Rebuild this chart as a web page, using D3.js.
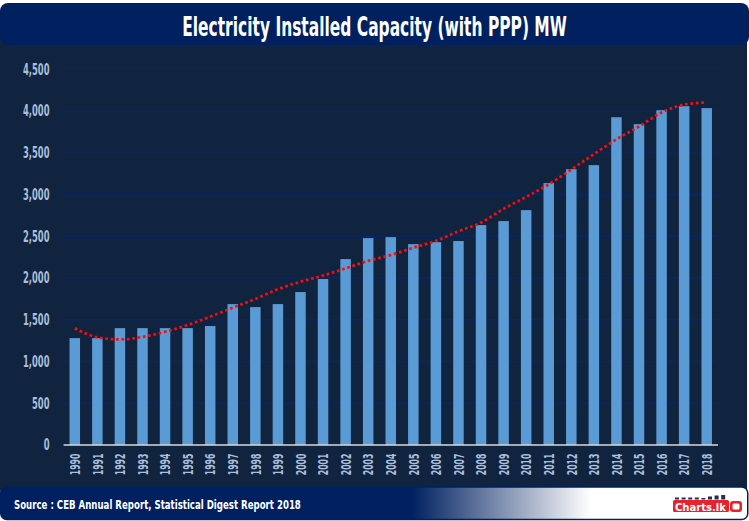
<!DOCTYPE html>
<html>
<head>
<meta charset="utf-8">
<script src="https://cdn.jsdelivr.net/npm/d3@7"></script>
<style>
  html, body { margin: 0; padding: 0; background: #ffffff; }
  svg { display: block; }
  text { font-family: "DejaVu Sans Condensed", "DejaVu Sans", sans-serif; font-weight: bold; }
</style>
</head>
<body>
<svg id="chart" width="749" height="521"></svg>
<script>
// ---- data ----
const years = ["1990","1991","1992","1993","1994","1995","1996","1997","1998","1999",
  "2000","2001","2002","2003","2004","2005","2006","2007","2008","2009",
  "2010","2011","2012","2013","2014","2015","2016","2017","2018"];
const capacity = [1280,1280,1400,1400,1400,1400,1425,1688,1652,1688,
  1832,1988,2227,2478,2490,2406,2430,2443,2634,2682,
  2813,3137,3304,3352,3926,3843,4010,4058,4035];
const trend = [1398,1290,1265,1295,1356,1437,1537,1644,1750,1866,
  1956,2030,2115,2205,2275,2363,2445,2560,2664,2828,
  2972,3122,3300,3483,3662,3815,3982,4077,4103];
const yTicks = [0,500,1000,1500,2000,2500,3000,3500,4000,4500];
const titleText = "Electricity Installed Capacity (with PPP) MW";
const sourceText = "Source : CEB Annual Report, Statistical Digest Report 2018";

// ---- setup ----
const svg = d3.select("#chart");
const labelColor = "#a9bfdb";

function squeeze(sel, f) {
  sel.each(function () {
    const w = this.getComputedTextLength();
    d3.select(this).attr("textLength", w * f).attr("lengthAdjust", "spacingAndGlyphs");
  });
}
// fit a text to a given width by horizontal scaling around its anchor point
function fitWidth(g, textSel, targetW) {
  const w = textSel.node().getComputedTextLength();
  g.attr("transform", g.attr("transform") + ` scale(${targetW / w},1)`);
}

// panel background
svg.append("rect").attr("x", 0).attr("y", 20).attr("width", 747).attr("height", 478)
  .attr("rx", 8).attr("fill", "#11243f");

// title banner
svg.append("rect").attr("x", 0).attr("y", 3).attr("width", 749).attr("height", 42)
  .attr("rx", 8).attr("fill", "#002060");
const tg = svg.append("g").attr("transform", "translate(374.5,36)");
const tt = tg.append("text").attr("x", 0).attr("y", 0).attr("text-anchor", "middle")
  .attr("fill", "#ffffff").attr("font-size", 26).text(titleText);
fitWidth(tg, tt, 385);

// ---- scales ----
const x = d3.scaleBand().domain(years).range([63.5, 718])
  .paddingInner(0.535).paddingOuter(0.2675);
const y = d3.scaleLinear().domain([0, 4500]).range([445, 69.3]);

// gridlines
svg.append("g").selectAll("line").data(yTicks.filter(d => d > 0)).join("line")
  .attr("x1", 63.5).attr("x2", 718)
  .attr("y1", d => y(d)).attr("y2", d => y(d))
  .attr("stroke", "#0a2563").attr("stroke-width", 1.3);

// y axis labels
const yAxis = svg.append("g").attr("transform", "translate(49.5,0)")
  .call(d3.axisLeft(y).tickValues(yTicks).tickFormat(d3.format(",")).tickSize(0).tickPadding(0));
yAxis.select(".domain").remove();
yAxis.selectAll("text").attr("fill", labelColor).attr("font-size", 15)
  .attr("font-family", "DejaVu Sans Condensed").attr("font-weight", "bold");
squeeze(yAxis.selectAll("text"), 0.62);

// bars
svg.append("g").selectAll("rect").data(years).join("rect")
  .attr("x", d => x(d)).attr("width", x.bandwidth())
  .attr("y", (d, i) => y(capacity[i])).attr("height", (d, i) => y(0) - y(capacity[i]))
  .attr("fill", "#5b9bd5");

// x axis baseline
svg.append("line").attr("x1", 63.5).attr("x2", 718).attr("y1", y(0)).attr("y2", y(0))
  .attr("stroke", "#d9d9d9").attr("stroke-width", 1.5);

// x labels
const xAxis = svg.append("g").attr("transform", `translate(0,${y(0)})`)
  .call(d3.axisBottom(x).tickSize(0).tickPadding(0));
xAxis.select(".domain").remove();
xAxis.selectAll("text")
  .attr("fill", labelColor).attr("font-size", 14.5)
  .attr("font-family", "DejaVu Sans Condensed").attr("font-weight", "bold")
  .attr("text-anchor", "end")
  .attr("transform", "rotate(-90)")
  .attr("x", -8.5).attr("y", 0).attr("dy", "0.36em");
squeeze(xAxis.selectAll("text"), 0.6);

// trend line
const line = d3.line()
  .x((d, i) => x(years[i]) + x.bandwidth() / 2)
  .y(d => y(d))
  .curve(d3.curveMonotoneX);
svg.append("path").datum(trend).attr("d", line)
  .attr("fill", "none").attr("stroke", "#ff0a0a").attr("stroke-width", 2.7)
  .attr("stroke-dasharray", "2.7,2.7");

// bottom banner
const defs = svg.append("defs");
const grad = defs.append("linearGradient").attr("id", "srcGrad")
  .attr("x1", "0%").attr("x2", "100%").attr("y1", "0%").attr("y2", "0%");
grad.append("stop").attr("offset", "0%").attr("stop-color", "#002060");
grad.append("stop").attr("offset", "55%").attr("stop-color", "#002060");
grad.append("stop").attr("offset", "79%").attr("stop-color", "#ffffff");
grad.append("stop").attr("offset", "100%").attr("stop-color", "#ffffff");
svg.append("rect").attr("x", 0.75).attr("y", 487).attr("width", 747).attr("height", 32.5)
  .attr("rx", 6).attr("fill", "url(#srcGrad)").attr("stroke", "#002060").attr("stroke-width", 1.5);
const sg = svg.append("g").attr("transform", "translate(14,509.3)");
const st = sg.append("text").attr("fill", "#ffffff").attr("font-size", 12.5).text(sourceText);
fitWidth(sg, st, 287);

// logo
const logo = svg.append("g");
const miniBars = [2, 2, 2, 2, 1.5, 3, 4, 4.5];
logo.selectAll("rect.mb").data(miniBars).join("rect").attr("class", "mb")
  .attr("x", (d, i) => 675 + i * 6.6).attr("width", 4)
  .attr("y", d => 499.5 - d).attr("height", d => d).attr("fill", "#1f2f5a");
logo.append("rect").attr("x", 673).attr("y", 500).attr("width", 56).attr("height", 12)
  .attr("rx", 1.5).attr("fill", "#e8222a");
const lg = logo.append("g").attr("transform", "translate(675,510.5)");
const lt = lg.append("text").attr("fill", "#ffffff").attr("font-size", 11).text("Charts.lk");
fitWidth(lg, lt, 51);
logo.append("rect").attr("x", 730).attr("y", 501).attr("width", 12).attr("height", 11)
  .attr("rx", 3).attr("fill", "#e8222a");
logo.append("rect").attr("x", 732.5).attr("y", 503.5).attr("width", 7).attr("height", 6)
  .attr("rx", 1.5).attr("fill", "#ffffff");
</script>
</body>
</html>
